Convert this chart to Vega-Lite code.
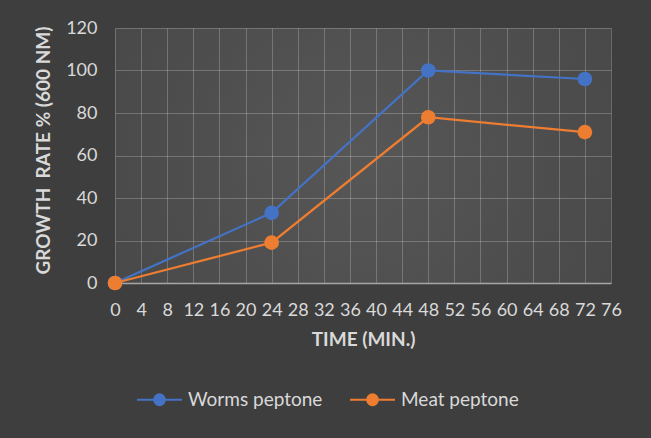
{
  "$schema": "https://vega.github.io/schema/vega-lite/v6.json",
  "width": 496,
  "height": 255,
  "autosize": {"type": "none"},
  "padding": {"left": 115, "top": 28, "right": 40, "bottom": 155},
  "background": "#3e3e3e",
  "config": {
    "view": {"stroke": null, "fill": {"gradient": "radial", "x1": 0.5, "y1": 0.5, "r1": 0, "x2": 0.5, "y2": 0.5, "r2": 0.75, "stops": [{"offset": 0, "color": "#575757"}, {"offset": 1, "color": "#444444"}]}},
    "font": "Lato",
    "axis": {
      "labelFont": "Lato", "labelFontSize": 18, "labelColor": "#d9d9d9",
      "titleFont": "Lato", "titleFontSize": 19, "titleFontWeight": "bold", "titleColor": "#d9d9d9",
      "gridColor": "#ffffff", "gridOpacity": 0.22, "gridWidth": 1,
      "ticks": false
    }
  },
  "data": {
    "values": [
      {"time": 0, "rate": 0, "series": "Worms peptone"},
      {"time": 24, "rate": 33, "series": "Worms peptone"},
      {"time": 48, "rate": 100, "series": "Worms peptone"},
      {"time": 72, "rate": 96, "series": "Worms peptone"},
      {"time": 0, "rate": 0, "series": "Meat peptone"},
      {"time": 24, "rate": 19, "series": "Meat peptone"},
      {"time": 48, "rate": 78, "series": "Meat peptone"},
      {"time": 72, "rate": 71, "series": "Meat peptone"}
    ]
  },
  "encoding": {
    "x": {
      "field": "time", "type": "quantitative",
      "scale": {"domain": [0, 76], "nice": false, "zero": false},
      "axis": {
        "title": "TIME (MIN.)",
        "values": [0, 4, 8, 12, 16, 20, 24, 28, 32, 36, 40, 44, 48, 52, 56, 60, 64, 68, 72, 76],
        "labelPadding": 18, "titlePadding": 11,
        "domain": true, "domainColor": "#a6a6a6", "domainWidth": 1.5,
        "labelOverlap": false, "labelFlush": false
      }
    },
    "y": {
      "field": "rate", "type": "quantitative",
      "scale": {"domain": [0, 120], "nice": false},
      "axis": {
        "title": "GROWTH\u00a0 RATE % (600 NM)",
        "values": [0, 20, 40, 60, 80, 100, 120],
        "labelPadding": 18, "titlePadding": 12, "titleY": 122,
        "domain": false
      }
    },
    "color": {
      "field": "series", "type": "nominal",
      "scale": {"domain": ["Worms peptone", "Meat peptone"], "range": ["#4472C4", "#ED7D31"]},
      "legend": {
        "title": null,
        "orient": "none",
        "direction": "horizontal",
        "legendX": 21,
        "legendY": 348,
        "padding": 0,
        "columnPadding": 23,
        "labelFont": "Lato",
        "labelFontSize": 19,
        "labelColor": "#d9d9d9",
        "labelOffset": 5,
        "symbolType": "M-1,0H1M0.24,0A0.24,0.24,0,1,1,-0.24,0A0.24,0.24,0,1,1,0.24,0",
        "symbolSize": 2025,
        "symbolStrokeWidth": 2,
        "symbolOpacity": 1,
        "encode": {
          "symbols": {"update": {"fill": {"scale": "color", "field": "value"}, "stroke": {"scale": "color", "field": "value"}, "fillOpacity": {"value": 1}}}
        }
      }
    }
  },
  "layer": [
    {"mark": {"type": "line", "strokeWidth": 2.25}},
    {"mark": {"type": "point", "filled": true, "size": 215, "opacity": 1}}
  ]
}
